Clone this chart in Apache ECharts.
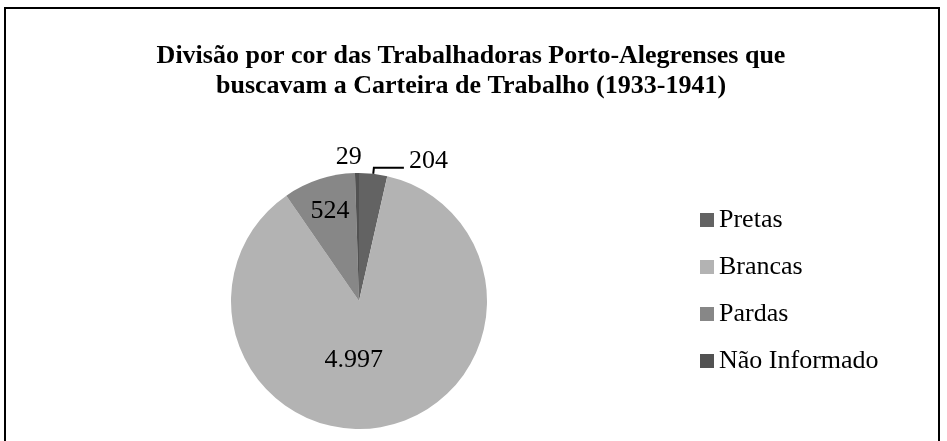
<!DOCTYPE html>
<html>
<head>
<meta charset="utf-8">
<script src="https://cdn.jsdelivr.net/npm/echarts@6/dist/echarts.min.js"></script>
<style>
  html, body { margin: 0; padding: 0; background: #fff; overflow: hidden; }
  #frame { position: absolute; left: 4px; top: 7px; width: 932px; height: 500px; border: 2px solid #000; }
  #chart { position: absolute; left: 0; top: 0; width: 947px; height: 441px; }
</style>
</head>
<body>
<div id="frame"></div>
<div id="chart"></div>
<script>
var titleText = 'Divisão por cor das Trabalhadoras Porto-Alegrenses que\nbuscavam a Carteira de Trabalho (1933-1941)';
var categories = ['Pretas', 'Brancas', 'Pardas', 'Não Informado'];
var counts = [204, 4997, 524, 29];
var colors = ['#636363', '#b3b3b3', '#878787', '#525252'];
// nudges for the value labels, Excel puts them a bit off the ECharts default spot
var labelShift = [[0, -7], [-18, -7], [-8, -26], [10, -2]];

// 4997 -> "4.997"
function fmt(v) {
  return String(v).replace(/\B(?=(\d{3})+(?!\d))/g, '.');
}

var serif = '"Liberation Serif", "DejaVu Serif", serif';

var pieData = categories.map(function (name, i) {
  var item = { name: name, value: counts[i], itemStyle: { color: colors[i] } };
  if (name === 'Pretas') {
    item.label = { position: 'outside' };
    item.labelLine = { show: true, length: 6, length2: 30, lineStyle: { color: '#000', width: 2 } };
  } else if (name === 'Não Informado') {
    item.label = { position: 'outside' };
    item.labelLine = { show: false, length: 14, length2: 0 };
  } else {
    item.label = { position: 'inside' };
  }
  return item;
});

var chart = echarts.init(document.getElementById('chart'), null, { renderer: 'canvas' });

chart.setOption({
  backgroundColor: 'transparent',
  animation: false,
  title: {
    text: titleText,
    left: 466,
    textAlign: 'center',
    top: 36,
    textStyle: { fontFamily: serif, fontSize: 26, fontWeight: 'bold', color: '#000', lineHeight: 30 }
  },
  graphic: [{
    type: 'text',
    left: 66,
    top: -21,
    style: { text: 'Gráfico', fontFamily: serif, fontSize: 26, fill: '#555' }
  }],
  legend: {
    orient: 'vertical',
    left: 695,
    top: 202,
    icon: 'rect',
    itemWidth: 14,
    itemHeight: 14,
    itemGap: 21,
    textStyle: { fontFamily: serif, fontSize: 26, color: '#000', lineHeight: 26, padding: [0, 0, 0, 0] },
    data: categories
  },
  series: [{
    type: 'pie',
    center: [359, 301],
    radius: 128,
    startAngle: 90,
    clockwise: true,
    avoidLabelOverlap: false,
    label: {
      show: true,
      color: '#000',
      fontSize: 26,
      fontFamily: serif,
      formatter: function (p) { return fmt(p.value); }
    },
    labelLayout: function (p) {
      return { dx: labelShift[p.dataIndex][0], dy: labelShift[p.dataIndex][1] };
    },
    emphasis: { disabled: true },
    data: pieData
  }]
});
</script>
</body>
</html>
